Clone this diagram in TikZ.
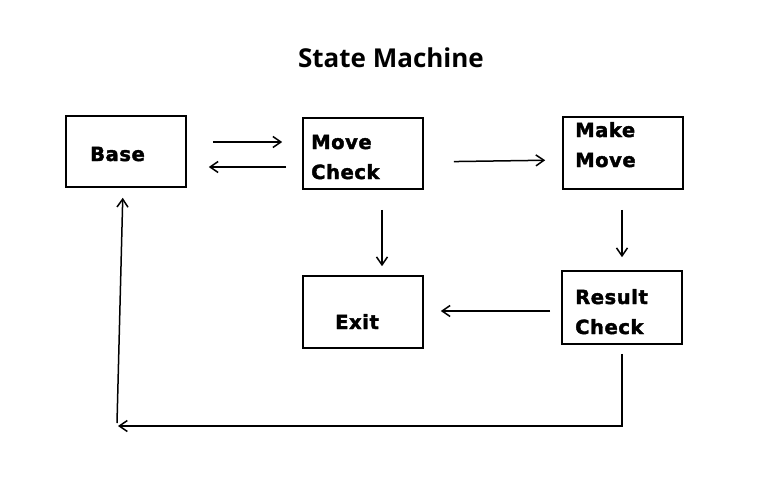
\documentclass[tikz,border=0pt]{standalone}
\usepackage{fontspec}
\usetikzlibrary{arrows.meta}
\newfontfamily\boxfont{DejaVu Sans}[LetterSpace=3,FakeBold=2]
\newfontfamily\titlefont{Open Sans}
\begin{document}
\begin{tikzpicture}[x=1pt,y=-1pt,
  box/.style={draw,line width=1.6pt,rectangle,inner sep=0pt,minimum width=120pt},
  lbl/.style={anchor=base west,inner sep=0pt,align=left,font=\boxfont\bfseries\fontsize{19.5}{30}\selectfont},
  arr/.style={line width=1.5pt,-{Straight Barb[length=8pt,width=11pt,line width=1.5pt]}}]
\useasboundingbox (0,0) rectangle (758,499);
\node[anchor=base,inner sep=0pt,font=\titlefont\bfseries\fontsize{26}{30}\selectfont] (title) at (391,67) {State Machine};
\node[box,minimum height=71pt] (base) at (126,151.5) {};
\node[box,minimum height=71pt] (mc) at (363,153.5) {};
\node[box,minimum height=72pt] (mm) at (623,153) {};
\node[box,minimum height=72pt] (exit) at (363,312) {};
\node[box,minimum height=73pt] (rc) at (622,307.5) {};
\node[lbl] (tbase) at (90,161) {Base};
\node[lbl] (tmc) at (311,179) {Move\\Check};
\node[lbl] (tmm) at (575,167) {Make\\Move};
\node[lbl] (texit) at (335,329) {Exit};
\node[lbl] (trc) at (575,334) {Result\\Check};
\coordinate (c1) at (622,426);
\coordinate (c2) at (118,426);
\coordinate (c3) at (117,423);
\draw[arr,shorten <=26pt,shorten >=20pt] ([yshift=9.5pt]base.east) -- ([yshift=11.5pt]mc.west);
\draw[arr,shorten <=16pt,shorten >=22pt] ([yshift=-13.5pt]mc.west) -- ([yshift=-15.5pt]base.east);
\draw[arr,shorten <=30pt,shorten >=17pt] ([yshift=-8.5pt]mc.east) -- ([yshift=-7pt]mm.west);
\draw[arr,shorten <=20pt,shorten >=9pt] ([xshift=19pt]mc.south) -- ([xshift=19pt]exit.north);
\draw[arr,shorten <=20pt,shorten >=13pt] ([xshift=-1pt]mm.south) -- (rc.north);
\draw[arr,shorten <=11pt,shorten >=17pt] ([yshift=-3.5pt]rc.west) -- ([yshift=1pt]exit.east);
\draw[arr,shorten <=9pt] (rc.south) -- (c1) -- (c2);
\draw[arr,shorten >=10pt] (c3) -- ([xshift=-3pt]base.south);
\end{tikzpicture}
\end{document}
